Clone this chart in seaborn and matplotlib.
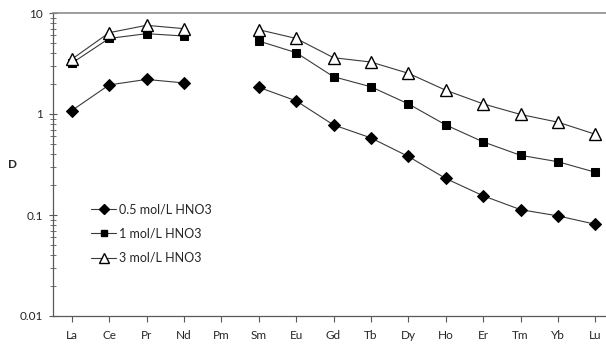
import numpy as np
import pandas as pd
import matplotlib
matplotlib.use("Agg")
import matplotlib.pyplot as plt
import seaborn as sns
from matplotlib.ticker import LogLocator, FixedFormatter, FixedLocator, NullFormatter
from matplotlib.lines import Line2D

elements = ["La", "Ce", "Pr", "Nd", "Pm", "Sm", "Eu", "Gd", "Tb", "Dy", "Ho", "Er", "Tm", "Yb", "Lu"]
d_05 = [1.08, 1.94, 2.20, 2.03, np.nan, 1.84, 1.35, 0.78, 0.58, 0.38, 0.23, 0.155, 0.113, 0.098, 0.081]
d_1 = [3.18, 5.60, 6.24, 5.92, np.nan, 5.28, 4.05, 2.34, 1.86, 1.26, 0.78, 0.53, 0.39, 0.337, 0.265]
d_3 = [3.48, 6.38, 7.55, 7.00, np.nan, 6.84, 5.60, 3.61, 3.27, 2.53, 1.72, 1.26, 0.99, 0.83, 0.63]
series_labels = ["0.5 mol/L HNO3", "1 mol/L HNO3", "3 mol/L HNO3"]
y_ticks = [0.01, 0.1, 1, 10]
y_ticklabels = ["0.01", "0.1", "1", "10"]

sns.set_style("white")
plt.rcParams["font.family"] = ["Lato", "DejaVu Sans"]

W, H = 606, 345
fig = plt.figure(figsize=(W / 100, H / 100), dpi=100)
left, right, top, bottom = 53, 614, 13, 316
ax = fig.add_axes([left / W, 1 - bottom / H, (right - left) / W, (bottom - top) / H])

line_color = "#3a3a3a"
styles = [
    dict(marker="D", markersize=6, markerfacecolor="black", markeredgecolor="black"),
    dict(marker="s", markersize=6, markerfacecolor="black", markeredgecolor="black"),
    dict(marker="^", markersize=8, markerfacecolor="white", markeredgecolor="black", markeredgewidth=1.0),
]

handles = []
for vals, lab, st in zip([d_05, d_1, d_3], series_labels, styles):
    df = pd.DataFrame({"pos": np.arange(len(elements)), "D": vals})
    df["seg"] = np.cumsum(df["D"].isna().values)
    df = df.dropna()
    sns.lineplot(data=df, x="pos", y="D", units="seg", estimator=None, ax=ax,
                 color=line_color, linewidth=0.8, legend=False, **st)
    hst = dict(st)
    hst["markersize"] = st["markersize"] - 1
    handles.append(Line2D([], [], color=line_color, linewidth=0.8, **hst))

ax.set_yscale("log")
ax.set_ylim(0.01, 10)
ax.set_xlim(-0.5, len(elements) - 0.5)
ax.yaxis.set_major_locator(FixedLocator(y_ticks))
ax.yaxis.set_major_formatter(FixedFormatter(y_ticklabels))
ax.yaxis.set_minor_locator(LogLocator(base=10, subs=np.arange(2, 10)))
ax.yaxis.set_minor_formatter(NullFormatter())
ax.set_xticks(np.arange(len(elements)))
ax.set_xticklabels(elements)
ax.set_xlabel("")
ax.set_ylabel("D", fontsize=8.5, fontweight="bold", rotation=0, labelpad=5, va="center")

spine_color = "#595959"
ax.spines["left"].set_color(spine_color)
ax.spines["bottom"].set_color(spine_color)
ax.spines["top"].set_color("#8c8c8c")
ax.spines["top"].set_linewidth(1.2)
ax.spines["right"].set_visible(False)
for s in ["left", "bottom"]:
    ax.spines[s].set_linewidth(0.9)

ax.tick_params(axis="y", which="major", direction="inout", length=6, width=0.8, color=spine_color,
               labelsize=8.5, pad=4, left=True)
ax.tick_params(axis="y", which="minor", direction="inout", length=4, width=0.6, color=spine_color, left=True)
ax.tick_params(axis="x", which="major", direction="out", length=4, width=0.8, color=spine_color,
               labelsize=8.5, pad=6, bottom=True)
for lbl in ax.get_xticklabels() + ax.get_yticklabels():
    lbl.set_color("#262626")

leg = ax.legend(handles, series_labels, loc="upper left",
                bbox_to_anchor=(91 / W, 1 - 203 / H), bbox_transform=fig.transFigure,
                frameon=False, fontsize=9, borderpad=0, borderaxespad=0,
                handlelength=2.0, handletextpad=0.2, labelspacing=1.0)
for t in leg.get_texts():
    t.set_color("#262626")

fig.savefig("out.png", dpi=100)
